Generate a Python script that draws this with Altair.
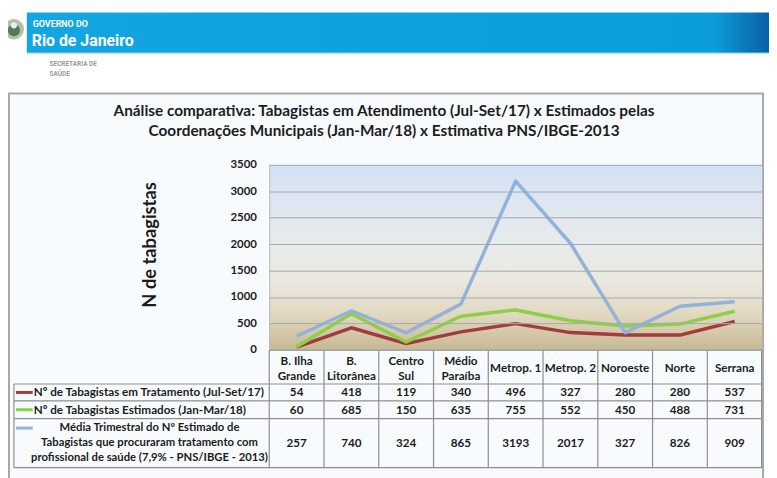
import altair as alt
import pandas as pd

# ---------------- data ----------------
categories = ["B. Ilha Grande", "B. Litorânea", "Centro Sul", "Médio Paraíba",
              "Metrop. 1", "Metrop. 2", "Noroeste", "Norte", "Serrana"]
header_labels = ["B. Ilha\nGrande", "B.\nLitorânea", "Centro\nSul", "Médio\nParaíba",
                 "Metrop. 1", "Metrop. 2", "Noroeste", "Norte", "Serrana"]
em_tratamento = [54, 418, 119, 340, 496, 327, 280, 280, 537]
estimados = [60, 685, 150, 635, 755, 552, 450, 488, 731]
media_pns = [257, 740, 324, 865, 3193, 2017, 327, 826, 909]
y_ticks = [0, 500, 1000, 1500, 2000, 2500, 3000, 3500]

title_lines = ["Análise comparativa: Tabagistas em Atendimento (Jul-Set/17) x Estimados pelas",
               "Coordenações Municipais (Jan-Mar/18) x Estimativa PNS/IBGE-2013"]
y_title = "N de tabagistas"
row1_label = "Nº de Tabagistas em Tratamento (Jul-Set/17)"
row2_label = "Nº de Tabagistas Estimados (Jan-Mar/18)"
row3_label = ["Média Trimestral do Nº Estimado de",
              "Tabagistas que procuraram tratamento com",
              "profissional de saúde (7,9% - PNS/IBGE - 2013)"]

table = pd.DataFrame({
    "region": categories,
    "header": header_labels,
    "trat": em_tratamento,
    "est": estimados,
    "pns": media_pns,
})
table["nlines"] = table["header"].str.count("\n") + 1
dummy = pd.DataFrame({"k": [0]})

# ---------------- layout (page pixels -> plot coords) ----------------
PX0, PY0 = 272, 164
W, H = 498, 187
def X(p): return p - PX0
def Y(p): return p - PY0

RED, GREEN, BLUE = "#a23b3c", "#8dcf4a", "#92b2dc"
FONT = "Lato"
TXT = "#1c1c1c"
LINE_C = "#8e8e8e"
TFS = 11.8  # table font size

xscale = alt.Scale(domain=categories, paddingInner=0, paddingOuter=0)
yscale = alt.Scale(domain=[0, 3500], nice=False, zero=True)
yaxis = alt.Axis(values=y_ticks, format="d", labelOverlap=False, labelFlush=False,
                 title=None, grid=True, gridColor="#a2a9b3", gridWidth=1, gridOpacity=1,
                 domain=False, ticks=False, zindex=1,
                 labelFont=FONT, labelFontWeight="bold", labelFontSize=11.5, labelColor=TXT,
                 labelPadding=13)
xenc_c = alt.X("region:N", scale=xscale, axis=None, bandPosition=0.5, sort=categories)

def deco():
    return alt.Chart(dummy)

layers = []

# outer frame
layers.append(deco().mark_rect(fill="#f8fbfd", stroke="#a8a8a8", strokeWidth=2).encode(
    x=alt.value(X(9)), x2=alt.value(X(771)), y=alt.value(Y(92)), y2=alt.value(Y(490))))

# banner
banner_grad = alt.Gradient(gradient="linear", x1=0, x2=1, y1=0, y2=0, stops=[
    alt.GradientStop(color="#13a6e3", offset=0),
    alt.GradientStop(color="#0c9ddb", offset=0.92),
    alt.GradientStop(color="#0a5aa0", offset=1)])
layers.append(deco().mark_rect(fill=banner_grad).encode(
    x=alt.value(X(27)), x2=alt.value(X(782)), y=alt.value(Y(10)), y2=alt.value(Y(51))))
layers.append(deco().mark_rule(color="#7fd0f2", strokeWidth=1).encode(
    x=alt.value(X(27)), x2=alt.value(X(782)), y=alt.value(Y(51))))

# crest (simplified)
layers.append(deco().mark_point(shape="circle", filled=True, size=420, color="#b9bfa4", opacity=1).encode(
    x=alt.value(X(14)), y=alt.value(Y(27))))
layers.append(deco().mark_point(shape="circle", filled=True, size=150, color="#4d7a60", opacity=1).encode(
    x=alt.value(X(14)), y=alt.value(Y(28))))
layers.append(deco().mark_point(shape="circle", filled=True, size=40, color="#e8eef2", opacity=1).encode(
    x=alt.value(X(14)), y=alt.value(Y(23))))

# header texts
HFONT = "Roboto"
layers.append(deco().mark_text(text="GOVERNO DO", font=HFONT, fontWeight="bold", fontSize=9,
                               color="white", align="left", baseline="middle").encode(
    x=alt.value(X(33)), y=alt.value(Y(22))))
layers.append(deco().mark_text(text="Rio de Janeiro", font=HFONT, fontWeight="bold", fontSize=16,
                               color="white", align="left", baseline="middle").encode(
    x=alt.value(X(32)), y=alt.value(Y(39))))
layers.append(deco().mark_text(text="SECRETARIA DE", font=HFONT, fontWeight="bold", fontSize=6.5,
                               color="#9a9a9a", align="left", baseline="middle").encode(
    x=alt.value(X(50)), y=alt.value(Y(62))))
layers.append(deco().mark_text(text="SAÚDE", font=HFONT, fontWeight="bold", fontSize=6.5,
                               color="#9a9a9a", align="left", baseline="middle").encode(
    x=alt.value(X(50)), y=alt.value(Y(72))))

# title (first line position given; following lines go below)
layers.append(deco().mark_text(text=title_lines, font=FONT, fontWeight="bold", fontSize=15.5,
                               color=TXT, align="center", baseline="middle", lineHeight=20).encode(
    x=alt.value(X(388)), y=alt.value(Y(110))))

# plot background gradient
plot_grad = alt.Gradient(gradient="linear", x1=0, x2=0, y1=0, y2=1, stops=[
    alt.GradientStop(color="#d4e1f4", offset=0),
    alt.GradientStop(color="#dde6f1", offset=0.2),
    alt.GradientStop(color="#e8ebea", offset=0.45),
    alt.GradientStop(color="#ebe9df", offset=0.62),
    alt.GradientStop(color="#e2d9c2", offset=0.8),
    alt.GradientStop(color="#c6b994", offset=1)])
layers.append(deco().mark_rect(fill=plot_grad).encode(
    x=alt.value(0), x2=alt.value(W), y=alt.value(0), y2=alt.value(H)))
layers.append(deco().mark_rule(color="#b8b8b8", strokeWidth=1).encode(
    x=alt.value(0.5), y=alt.value(0), y2=alt.value(H)))

# y title
layers.append(deco().mark_text(text=y_title, font=FONT, fontWeight="bold", fontSize=18.5,
                               color=TXT, align="center", baseline="middle", angle=270).encode(
    x=alt.value(X(152)), y=alt.value(Y(245))))

# series lines (y axis with gridlines comes from these)
for field, col in [("trat", RED), ("est", GREEN), ("pns", BLUE)]:
    layers.append(alt.Chart(table).mark_line(color=col, strokeWidth=3.5, strokeJoin="round").encode(
        x=xenc_c, y=alt.Y(f"{field}:Q", scale=yscale, axis=yaxis)))

# ---------------- data table ----------------
for yy, x1 in [(351.5, 272), (385.5, 14), (402.5, 14), (420.5, 14), (470, 14)]:
    layers.append(deco().mark_rule(color=LINE_C, strokeWidth=1.2).encode(
        x=alt.value(X(x1)), x2=alt.value(W), y=alt.value(Y(yy))))
layers.append(deco().mark_rule(color=LINE_C, strokeWidth=1.2).encode(
    x=alt.value(X(14)), y=alt.value(Y(385.5)), y2=alt.value(Y(470))))
layers.append(deco().mark_rule(color=LINE_C, strokeWidth=1.2).encode(
    x=alt.value(W - 0.5), y=alt.value(Y(351)), y2=alt.value(Y(470))))
layers.append(alt.Chart(table).mark_rule(color=LINE_C, strokeWidth=1.2).encode(
    x=alt.X("region:N", scale=xscale, axis=None, bandPosition=0, sort=categories),
    y=alt.value(Y(351)), y2=alt.value(Y(470))))

# header row: two-line labels start higher, single-line labels centred
layers.append(alt.Chart(table).transform_filter(alt.datum.nlines == 2).mark_text(
    font=FONT, fontWeight="bold", fontSize=TFS, color=TXT,
    lineBreak="\n", lineHeight=14.5, baseline="middle").encode(
    x=xenc_c, y=alt.value(Y(362.5)), text="header:N"))
layers.append(alt.Chart(table).transform_filter(alt.datum.nlines == 1).mark_text(
    font=FONT, fontWeight="bold", fontSize=TFS, color=TXT, baseline="middle").encode(
    x=xenc_c, y=alt.value(Y(369.5)), text="header:N"))

# value rows
for field, yy in [("trat", 394), ("est", 411.5), ("pns", 445)]:
    layers.append(alt.Chart(table).mark_text(font=FONT, fontWeight="bold", fontSize=TFS, color=TXT,
                                             baseline="middle").encode(
        x=xenc_c, y=alt.value(Y(yy)), text=alt.Text(f"{field}:Q", format="d")))

# row labels with legend keys
layers.append(deco().mark_text(text=row1_label, font=FONT, fontWeight="bold", fontSize=TFS,
                               color=TXT, align="left", baseline="middle").encode(
    x=alt.value(X(34)), y=alt.value(Y(394))))
layers.append(deco().mark_text(text=row2_label, font=FONT, fontWeight="bold", fontSize=TFS,
                               color=TXT, align="left", baseline="middle").encode(
    x=alt.value(X(34)), y=alt.value(Y(411.5))))
layers.append(deco().mark_text(text=row3_label, font=FONT, fontWeight="bold", fontSize=11.4,
                               color=TXT, align="center", baseline="middle", lineHeight=15).encode(
    x=alt.value(X(151)), y=alt.value(Y(430))))
for col, yy in [(RED, 394), (GREEN, 411.5), (BLUE, 430)]:
    layers.append(deco().mark_rule(color=col, strokeWidth=3).encode(
        x=alt.value(X(16)), x2=alt.value(X(33)), y=alt.value(Y(yy))))

chart = alt.layer(*layers).properties(
    width=W, height=H,
    padding={"left": PX0 - 8, "top": PY0 - 8, "right": 777 - 8 - (PX0 - 8) - W,
             "bottom": 478 - 8 - (PY0 - 8) - H},
    autosize=alt.AutoSizeParams(type="none"),
).configure_view(stroke=None).configure(background="white")

chart.save("out.html", embed_options={"renderer": "svg", "actions": False})
